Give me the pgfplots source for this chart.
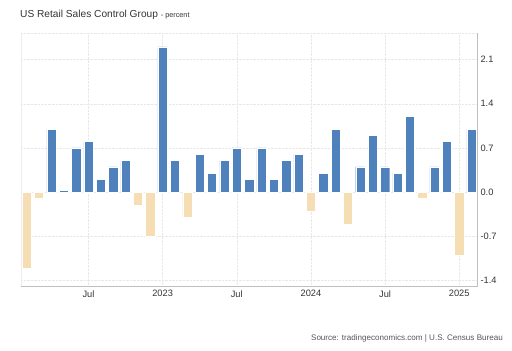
\documentclass[border=0pt]{standalone}
\usepackage{pgfplots}
\pgfplotsset{compat=1.18}
\usepackage{pgfplotstable}
\usepackage{fontspec}
\setmainfont{Liberation Sans}
\definecolor{barblue}{RGB}{79,129,189}
\definecolor{bartan}{RGB}{245,222,179}
\definecolor{txtgray}{RGB}{51,51,51}
\definecolor{srcgray}{RGB}{85,85,85}

\pgfplotstableread{
x y
3 1.0
4 0.03
5 0.7
6 0.8
7 0.2
8 0.4
9 0.5
12 2.3
13 0.5
15 0.6
16 0.3
17 0.5
18 0.7
19 0.2
20 0.7
21 0.2
22 0.5
23 0.6
25 0.3
26 1.0
28 0.4
29 0.9
30 0.4
31 0.3
32 1.2
34 0.4
35 0.8
37 1.0
}\pos

\pgfplotstableread{
x y
1 -1.2
2 -0.1
10 -0.2
11 -0.7
14 -0.4
24 -0.3
27 -0.5
33 -0.1
36 -1.0
}\neg

\begin{document}
\begin{tikzpicture}[x=1bp,y=1bp]
\useasboundingbox (0,0) rectangle (512,350);
\begin{axis}[
  name=ax,
  at={(21bp,64bp)}, anchor=south west,
  scale only axis,
  width=456bp, height=253bp,
  xmin=0.54, xmax=37.44,
  ymin=-1.485, ymax=2.52,
  axis line style={draw=none},
  xtick={6,12,18,24,30,36},
  xticklabels={Jul,2023,Jul,2024,Jul,2025},
  ytick={-1.4,-0.7,0,0.7,1.4,2.1},
  yticklabel pos=right,
  major tick length=0pt,
  grid=major,
  major grid style={densely dotted, draw=gray!18},
  tick label style={font=\fontsize{9.3}{10}\selectfont, text=txtgray},
  /pgf/number format/assume math mode=true,
  yticklabel style={/pgf/number format/.cd, fixed, fixed zerofill, precision=1},
  xticklabel style={yshift=-1bp},
  bar width=0.75,
]
\addplot[ybar, bar shift=0pt, fill=barblue, draw=white, line width=0.4pt] table[x=x,y=y] {\pos};
\addplot[ybar, bar shift=0pt, fill=bartan, draw=white, line width=0.4pt] table[x=x,y=y] {\neg};
\end{axis}
\draw[gray!15] (ax.south west) -- (ax.north west);
\draw[densely dotted, gray!18] (ax.north west) -- (ax.north east);
\draw[gray!50] (ax.south west) -- (ax.south east) -- (ax.north east);
\node[anchor=base west, inner sep=0pt, text=txtgray] at (20,333)
  {\fontsize{10.2}{12}\selectfont US Retail Sales Control Group\ \fontsize{7.3}{8}\selectfont - percent};
\node[anchor=base east, inner sep=0pt, text=srcgray] at (503,10)
  {\fontsize{8.1}{9}\selectfont Source: tradingeconomics.com | U.S. Census Bureau};
\end{tikzpicture}
\end{document}
